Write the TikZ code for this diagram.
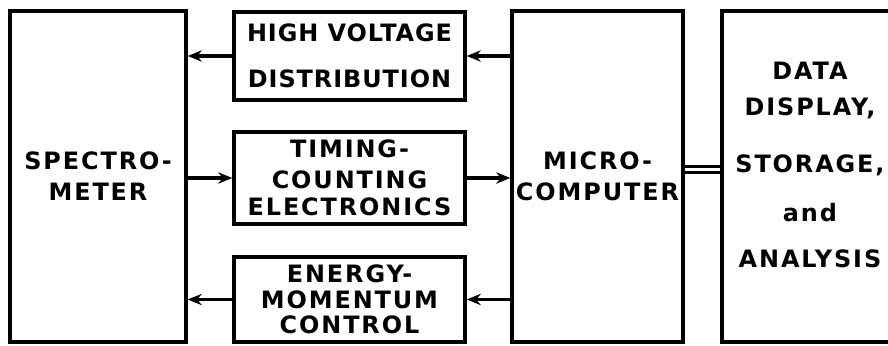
\documentclass[tikz,border=0pt]{standalone}
\usepackage{fontspec}
\newfontfamily\blockfont{DejaVu Sans}[LetterSpace=8]
\usetikzlibrary{arrows.meta,positioning}

\begin{document}
\begin{tikzpicture}[
    x=0.025cm, y=-0.025cm,
    >={Stealth[length=10pt,width=8pt]},
    block/.style={draw, line width=2.4pt, inner sep=0pt, align=center,
      font=\blockfont\bfseries\fontsize{17}{22}\selectfont},
    blocktext/.style={align=center, inner sep=0pt,
      font=\blockfont\bfseries\fontsize{17}{22}\selectfont},
    link/.style={line width=2.4pt},
  ]
  \def\px{0.025cm}
  \useasboundingbox (0,0) rectangle (888,346);

  % ========= OUTER COLUMNS =========
  \node[block, minimum width=176*\px, minimum height=331*\px] (spectro) at (98,176.5)
    {SPECTRO-\\METER};
  \node[block, minimum width=171*\px, minimum height=331*\px] (micro) at (597.5,176.5)
    {MICRO-\\COMPUTER};
  \node[block, minimum width=170*\px, minimum height=331*\px] (data) at (807,176.5) {};
  \node[blocktext] (datatext) at (810,165)
    {DATA\\[4pt]DISPLAY,\\[18pt]STORAGE,\\[13pt]and\\[11pt]ANALYSIS};

  % ========= MIDDLE COLUMN =========
  \node[block, minimum width=231*\px, minimum height=88*\px,
    font=\blockfont\bfseries\fontsize{17}{22}\selectfont\addfontfeature{LetterSpace=4}]
    (hv) at (349.5,56) {HIGH VOLTAGE\\[11pt]DISTRIBUTION};
  \node[block, minimum width=231*\px, minimum height=92*\px] (timing) at (349.5,178)
    {TIMING-\\COUNTING\\[-3pt]ELECTRONICS};
  \node[block, minimum width=231*\px, minimum height=85*\px] (energy) at (349.5,299.5)
    {ENERGY-\\[-4pt]MOMENTUM\\[-4pt]CONTROL};

  % Spectrometer side
  \draw[link, ->] (hv.west) -- (hv.west -| spectro.east);
  \draw[link, ->] (spectro.east |- timing.west) -- (timing.west);
  \draw[link, ->] (energy.west) -- (energy.west -| spectro.east);

  % Computer side
  \draw[link, ->] (micro.west |- hv.east) -- (hv.east);
  \draw[link, ->] (timing.east) -- (timing.east -| micro.west);
  \draw[link, ->] (micro.west |- energy.east) -- (energy.east);

  % Data bus
  \draw[link, line width=2pt, double, double distance=2.5pt]
    ([yshift=5pt]micro.east) -- ([yshift=5pt]data.west);
\end{tikzpicture}
\end{document}
